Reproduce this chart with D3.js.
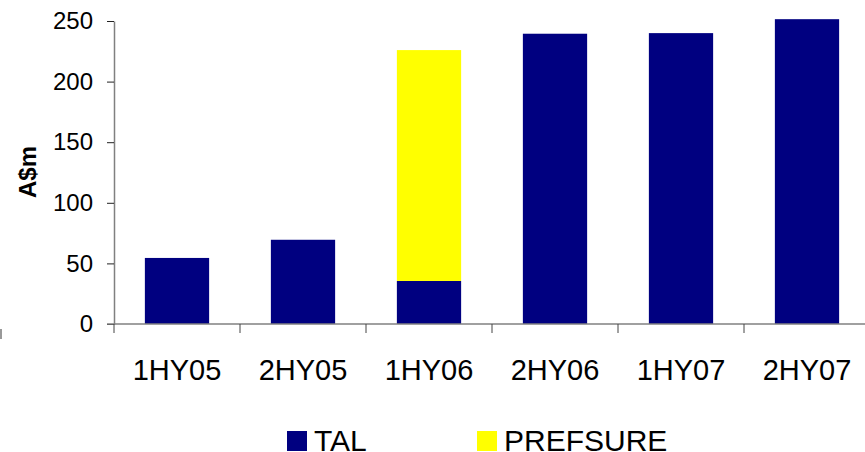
<!DOCTYPE html>
<html>
<head>
<meta charset="utf-8">
<script src="https://cdn.jsdelivr.net/npm/d3@7"></script>
<style>
  html, body { margin: 0; padding: 0; background: #fff; }
  svg { display: block; }
  text { font-family: "Liberation Sans", Arial, sans-serif; fill: #000; }
</style>
</head>
<body>
<svg id="chart" width="865" height="452"></svg>
<script>
// Half-year periods and amounts (A$m)
const categories = ["1HY05", "2HY05", "1HY06", "2HY06", "1HY07", "2HY07"];
const talValues = [54.5, 69.5, 35.5, 239.5, 240, 251.5];
const prefsureValues = [0, 0, 190.5, 0, 0, 0];
const seriesNames = ["TAL", "PREFSURE"];
const seriesColors = ["#000080", "#FFFF00"];
const yTicks = [0, 50, 100, 150, 200, 250];

const svg = d3.select("#chart");

const x = d3.scaleBand().domain(categories).range([114, 870]).paddingInner(0.49).paddingOuter(0.245);
const y = d3.scaleLinear().domain([0, 250]).range([324, 21]);

// stacked table built from the series arrays
const rows = categories.map((c, i) => ({ cat: c, TAL: talValues[i], PREFSURE: prefsureValues[i] }));
const stacked = d3.stack().keys(seriesNames)(rows);

svg.append("g").selectAll("g")
  .data(stacked)
  .join("g")
  .attr("fill", (d, i) => seriesColors[i])
  .selectAll("rect")
  .data(d => d.filter(p => p[1] - p[0] > 0))
  .join("rect")
  .attr("x", d => x(d.data.cat))
  .attr("width", x.bandwidth())
  .attr("y", d => y(d[1]))
  .attr("height", d => y(d[0]) - y(d[1]));

// y axis
const yAxis = svg.append("g")
  .attr("transform", "translate(114,0)")
  .call(d3.axisLeft(y).tickValues(yTicks).tickSize(7).tickPadding(14).tickSizeOuter(0));
yAxis.select(".domain").attr("stroke", "#808080").attr("stroke-width", 1.5);
yAxis.selectAll(".tick line").attr("stroke", "#222");
yAxis.selectAll(".tick text").attr("font-size", 24).attr("font-family", "Liberation Sans, Arial, sans-serif").attr("fill", "#000");

// x axis with ticks on category boundaries
const xAxis = svg.append("g").attr("transform", "translate(0,324)");
xAxis.append("line")
  .attr("x1", 107).attr("x2", 865)
  .attr("stroke", "#808080").attr("stroke-width", 1.5);
const boundaries = categories.map(c => x(c) - x.step() * x.paddingInner() / 2);
xAxis.selectAll("line.tk")
  .data(boundaries)
  .join("line")
  .attr("class", "tk")
  .attr("x1", d => d).attr("x2", d => d)
  .attr("y1", 0).attr("y2", 9)
  .attr("stroke", "#444");
xAxis.selectAll("text")
  .data(categories)
  .join("text")
  .attr("x", d => x(d) + x.bandwidth() / 2)
  .attr("y", 56)
  .attr("text-anchor", "middle")
  .attr("font-size", 29)
  .text(d => d);

// y axis title
svg.append("text")
  .attr("transform", "translate(36,172) rotate(-90)")
  .attr("text-anchor", "middle")
  .attr("font-size", 24)
  .attr("font-weight", "bold")
  .text("A$m");

// small mark at the left edge
svg.append("line")
  .attr("x1", 1).attr("x2", 1).attr("y1", 329).attr("y2", 339)
  .attr("stroke", "#777").attr("stroke-width", 1.5);

// legend
const legendX = [287, 477];
const legend = svg.append("g").selectAll("g")
  .data(seriesNames)
  .join("g")
  .attr("transform", (d, i) => `translate(${legendX[i]},431)`);
legend.append("rect")
  .attr("width", 20).attr("height", 20)
  .attr("fill", (d, i) => seriesColors[i]);
legend.append("text")
  .attr("x", 27).attr("y", 20)
  .attr("font-size", 30)
  .text(d => d);
</script>
</body>
</html>
